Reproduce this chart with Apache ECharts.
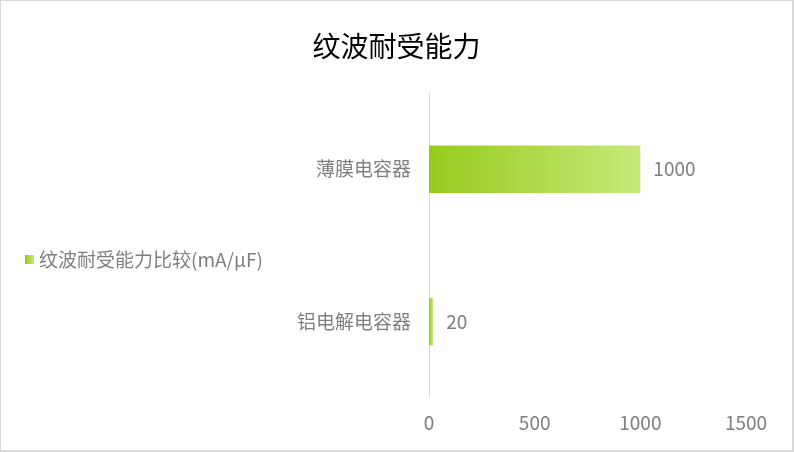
<!DOCTYPE html>
<html><head><meta charset="utf-8">
<script src="https://cdn.jsdelivr.net/npm/echarts@6/dist/echarts.min.js"></script>
<style>
html,body{margin:0;padding:0;background:#fff;}
#c{width:794px;height:452px;box-sizing:border-box;border:1px solid #d9d9d9;border-bottom-width:2px;border-right-width:2px;}
</style></head>
<body><div id="c"></div>
<script>
const titleText = '纹波耐受能力';
const seriesName = '纹波耐受能力比较(mA/μF)';
const categories = ['铝电解电容器', '薄膜电容器'];
const values = [20, 1000];
const xTicks = {min: 0, max: 1500, interval: 500};

const font = '"Noto Sans CJK SC", "Microsoft YaHei", sans-serif';
const grad = new echarts.graphic.LinearGradient(0, 0, 1, 0, [
  {offset: 0, color: '#98cb1c'},
  {offset: 1, color: '#c6e97a'}
]);
const chart = echarts.init(document.getElementById('c'), null, {renderer: 'canvas'});
chart.setOption({
  backgroundColor: '#fff',
  title: {
    text: titleText, left: 'center', top: 26,
    textStyle: {fontFamily: font, fontSize: 28, fontWeight: 'normal', color: '#000'}
  },
  legend: {
    left: 19, top: 244, orient: 'vertical',
    itemWidth: 9, itemHeight: 9, itemGap: 8, itemTextGap: 6,
    textStyle: {fontFamily: font, fontSize: 19, color: '#7f7f7f'},
    data: [{name: seriesName, icon: 'rect'}]
  },
  grid: {left: 428, right: 46, top: 92, bottom: 52, containLabel: false},
  xAxis: {
    type: 'value', min: xTicks.min, max: xTicks.max, interval: xTicks.interval,
    axisLine: {show: false}, axisTick: {show: false}, splitLine: {show: false},
    axisLabel: {fontFamily: font, fontSize: 19, color: '#7f7f7f', margin: 15, formatter: v => String(v)}
  },
  yAxis: {
    type: 'category', data: categories,
    axisLine: {show: true, lineStyle: {color: '#d9d9d9', width: 1}},
    axisTick: {show: false},
    axisLabel: {fontFamily: font, fontSize: 19, color: '#7f7f7f', margin: 18}
  },
  series: [{
    name: seriesName, type: 'bar', data: values, barWidth: '31%',
    itemStyle: {color: grad},
    label: {show: true, position: 'right', distance: 13, fontFamily: font, fontSize: 19, color: '#7f7f7f'}
  }]
});
</script></body></html>
